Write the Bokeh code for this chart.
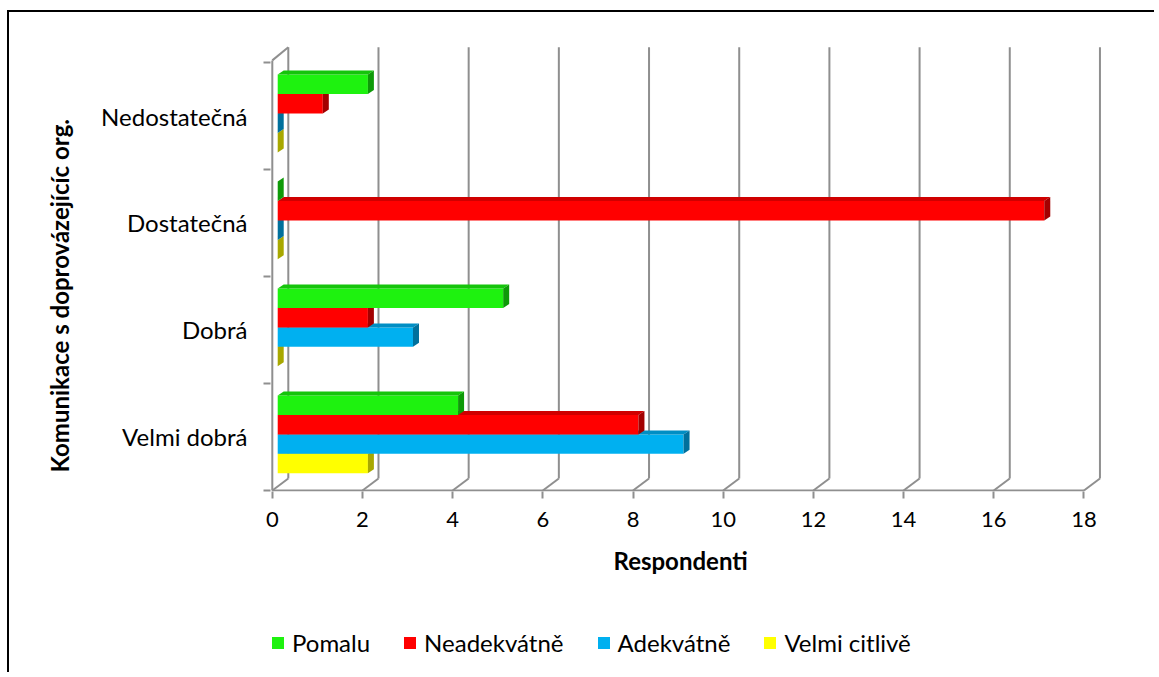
import math
from bokeh.plotting import figure
from bokeh.layouts import column
from bokeh.models import Range1d, FixedTicker, Legend, LegendItem, Title
from bokeh.embed import file_html
from bokeh.resources import INLINE

# ---------------- data ----------------
categories = ["Velmi dobrá", "Dobrá", "Dostatečná", "Nedostatečná"]
series_names = ["Pomalu", "Neadekvátně", "Adekvátně", "Velmi citlivě"]
pomalu = [4, 5, 0, 2]
neadekvatne = [8, 2, 17, 1]
adekvatne = [9, 3, 0, 0]
velmi_citlive = [2, 0, 0, 0]
x_ticks = [0, 2, 4, 6, 8, 10, 12, 14, 16, 18]
x_title = "Respondenti"
y_title = "Komunikace s doprovázejícíc org."

series_values = [pomalu, neadekvatne, adekvatne, velmi_citlive]
front_colors = ["#1ef20f", "#ff0000", "#00b0f0", "#ffff00"]
top_colors = ["#15c40b", "#cf0000", "#008ec4", "#cfcf00"]
side_colors = ["#0e9a08", "#a30000", "#00709c", "#a8a800"]

FONT = "Lato"
GRID = "#8f8f8f"

# ---------------- geometry (style constants) ----------------
PXX = 45.09   # px per x unit
PXY = 107.0   # px per y unit
DX = 16 / PXX  # depth offset of back wall
DY = 12 / PXY
BX0 = 0.12      # bar start (mid-depth)
BAR_H = 0.182
BAR_OFF = 0.16
BDX = 6 / PXX   # bar depth
BDY = 4 / PXY
n_cat = len(categories)
WALL_TOP = n_cat + DY + 0.03
FRONT_TOP = n_cat + 0.02
xmax = x_ticks[-1]

p = figure(width=1145, height=600,
           x_range=Range1d(-0.04, 18.5), y_range=Range1d(-0.01, 4.206),
           output_backend="svg", toolbar_location=None,
           min_border_left=261, min_border_right=48,
           min_border_top=28, min_border_bottom=121)
p.outline_line_color = None
p.xgrid.grid_line_color = None
p.ygrid.grid_line_color = None
p.background_fill_color = "white"

# ---------------- walls / gridlines ----------------
p.segment(x0=[t + DX for t in x_ticks], y0=[DY] * len(x_ticks),
          x1=[t + DX for t in x_ticks], y1=[WALL_TOP] * len(x_ticks),
          line_color=GRID, line_width=2)
p.segment(x0=x_ticks, y0=[0] * len(x_ticks),
          x1=[t + DX for t in x_ticks], y1=[DY] * len(x_ticks),
          line_color=GRID, line_width=2)
p.segment(x0=[0], y0=[0], x1=[xmax], y1=[0], line_color=GRID, line_width=2)
p.segment(x0=[0], y0=[0], x1=[0], y1=[FRONT_TOP], line_color=GRID, line_width=2)
p.segment(x0=[0], y0=[FRONT_TOP], x1=[DX], y1=[WALL_TOP], line_color=GRID, line_width=2)

# ---------------- 3D bars ----------------
for i in reversed(range(len(series_names))):
    vals = series_values[i]
    lefts, rights, bottoms, tops = [], [], [], []
    txs, tys, sxs, sys_ = [], [], [], []
    for c, v in enumerate(vals):
        y0 = c + BAR_OFF + (len(series_names) - 1 - i) * BAR_H
        y1 = y0 + BAR_H
        x0 = BX0
        x1 = BX0 + v
        lefts.append(x0); rights.append(x1); bottoms.append(y0); tops.append(y1)
        txs.append([x0, x1, x1 + BDX, x0 + BDX])
        tys.append([y1, y1, y1 + BDY, y1 + BDY])
        sxs.append([x1, x1 + BDX, x1 + BDX, x1])
        sys_.append([y0, y0 + BDY, y1 + BDY, y1])
    p.quad(left=lefts, right=rights, bottom=bottoms, top=tops,
           fill_color=front_colors[i], line_color=None)
    p.patches(xs=txs, ys=tys, fill_color=top_colors[i], line_color=None)
    p.patches(xs=sxs, ys=sys_, fill_color=side_colors[i], line_color=None)

# ---------------- axes ----------------
xa = p.xaxis[0]
xa.ticker = FixedTicker(ticks=x_ticks, minor_ticks=[])
xa.axis_line_color = None
xa.major_tick_out = 7
xa.major_tick_in = 0
xa.major_tick_line_color = GRID
xa.major_tick_line_width = 2
xa.major_label_standoff = 13
xa.major_label_text_font = FONT
xa.major_label_text_font_size = "22px"
xa.major_label_text_color = "black"

ya = p.yaxis[0]
ya.ticker = FixedTicker(ticks=[c + 0.5 for c in range(n_cat)],
                        minor_ticks=list(range(n_cat + 1)))
ya.major_label_overrides = {c + 0.5: categories[c] for c in range(n_cat)}
ya.axis_line_color = None
ya.major_tick_line_color = None
ya.major_tick_out = 7
ya.major_tick_in = 0
ya.minor_tick_out = 7
ya.minor_tick_in = 0
ya.minor_tick_line_color = GRID
ya.minor_tick_line_width = 2
ya.major_label_standoff = 16
ya.major_label_text_font = FONT
ya.major_label_text_font_size = "24px"
ya.major_label_text_color = "black"

# ---------------- titles ----------------
p.add_layout(Title(text=x_title, align="left", offset=343, standoff=29,
                   text_font=FONT, text_font_style="bold", text_color="black",
                   text_font_size="24px"), "below")
p.add_layout(Title(text=y_title, align="left", offset=19, standoff=50,
                   text_font=FONT, text_font_style="bold", text_color="black",
                   text_font_size="24px"), "left")

# ---------------- legend (separate strip below the chart) ----------------
pl = figure(width=1145, height=60, x_range=Range1d(0, 1), y_range=Range1d(0, 1),
            output_backend="svg", toolbar_location=None,
            x_axis_location=None, y_axis_location=None,
            min_border_left=0, min_border_right=0, min_border_top=0, min_border_bottom=0)
pl.outline_line_color = None
pl.xgrid.grid_line_color = None
pl.ygrid.grid_line_color = None
items = []
for i, name in enumerate(series_names):
    r = pl.quad(left=[0], right=[0], bottom=[0], top=[0],
                fill_color=front_colors[i], line_color=None)
    items.append(LegendItem(label=name, renderers=[r]))
legend = Legend(items=items, orientation="horizontal", location=(0, 15),
                border_line_color=None, background_fill_alpha=0,
                glyph_width=15, glyph_height=15, label_standoff=7, spacing=32,
                padding=0, margin=0, label_text_font=FONT, label_text_color="black",
                label_text_font_size="24px", label_height=22)
pl.add_layout(legend)

layout = column(p, pl, spacing=0,
                styles={"border-left": "2px solid black", "border-top": "2px solid black",
                        "margin-top": "10px", "margin-left": "7px"})

open("out.html", "w").write(file_html(layout, INLINE))
